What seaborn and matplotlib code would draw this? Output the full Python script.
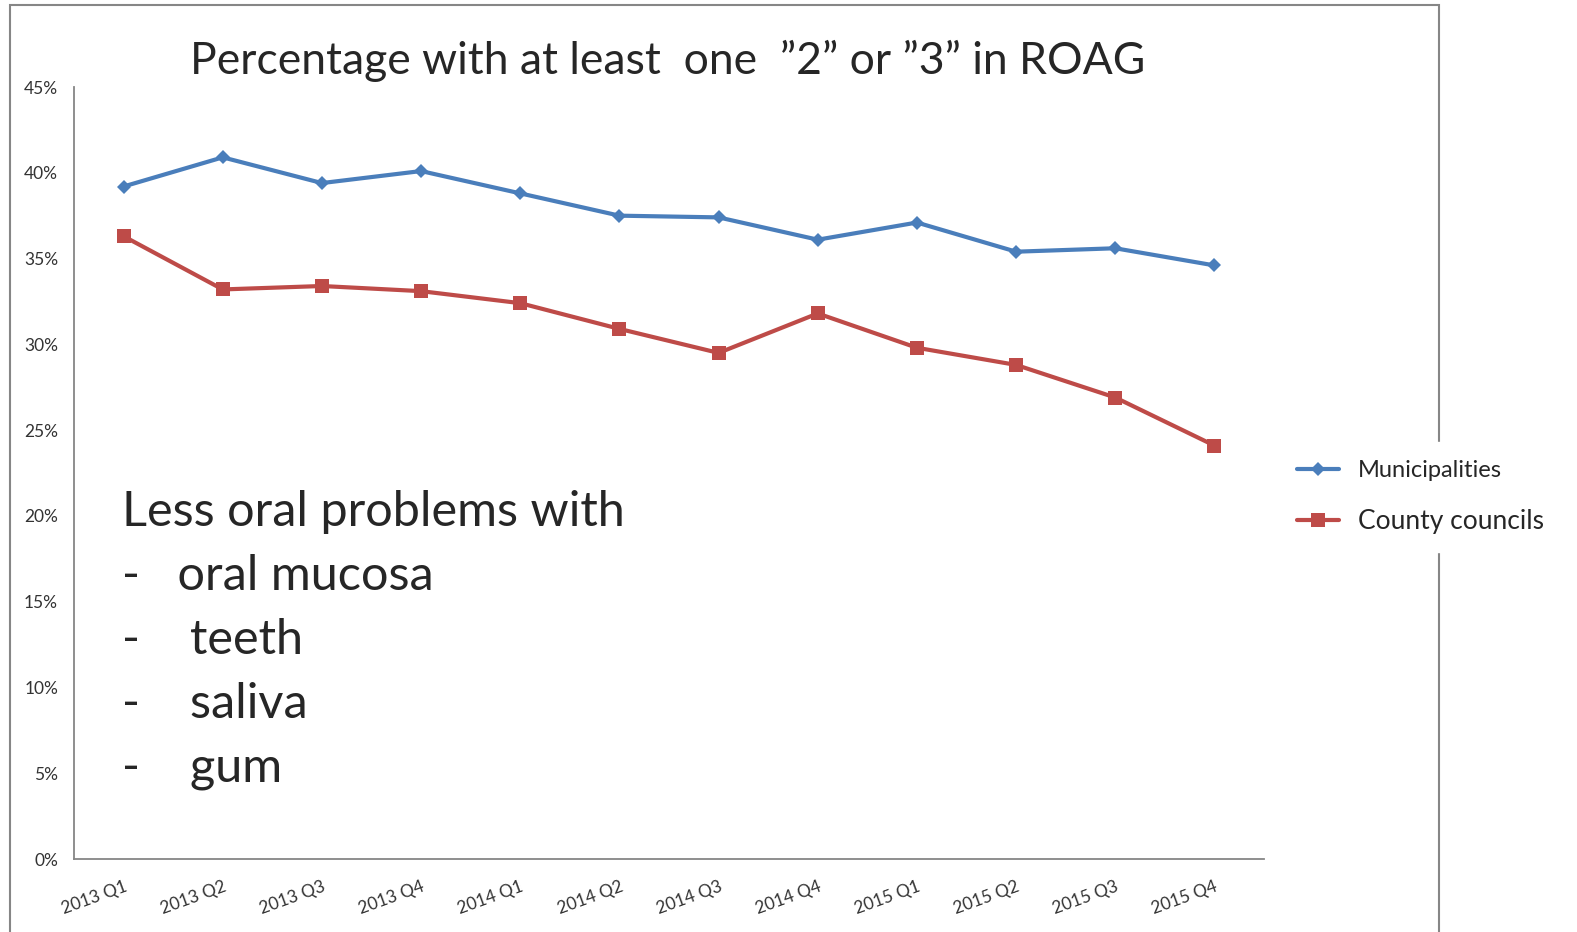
import matplotlib
matplotlib.use('Agg')
import matplotlib.pyplot as plt
from matplotlib.patches import Rectangle
from matplotlib.ticker import FuncFormatter
import pandas as pd
import seaborn as sns

quarters = ['2013 Q1', '2013 Q2', '2013 Q3', '2013 Q4',
            '2014 Q1', '2014 Q2', '2014 Q3', '2014 Q4',
            '2015 Q1', '2015 Q2', '2015 Q3', '2015 Q4']
municipalities = [39.2, 40.9, 39.4, 40.1, 38.8, 37.5, 37.4, 36.1, 37.1, 35.4, 35.6, 34.6]
county_councils = [36.3, 33.2, 33.4, 33.1, 32.4, 30.9, 29.5, 31.8, 29.8, 28.8, 26.9, 24.1]
series_names = ['Municipalities', 'County councils']
y_ticks = [0, 5, 10, 15, 20, 25, 30, 35, 40, 45]
note_lines = ['Less oral problems with', '-   oral mucosa', '-    teeth', '-    saliva', '-    gum']

df = pd.DataFrame({
    'quarter': quarters * 2,
    'value': municipalities + county_councils,
    'group': [series_names[0]] * len(quarters) + [series_names[1]] * len(quarters),
})

sns.set_style('white')
plt.rcParams['font.family'] = ['Lato', 'DejaVu Sans']

fig = plt.figure(figsize=(15.77, 9.32), dpi=100)
ax = fig.add_axes([74 / 1577, 1 - 859 / 932, 1190 / 1577, 772 / 932])

palette = {series_names[0]: '#4A7EBB', series_names[1]: '#BE4B48'}
markers = {series_names[0]: 'D', series_names[1]: 's'}
sns.lineplot(data=df, x='quarter', y='value', hue='group', style='group',
             palette=palette, markers=markers, dashes=False, linewidth=3,
             markersize=9, markeredgewidth=0, ax=ax, sort=False)
for line in ax.get_lines():
    if line.get_marker() == 'D':
        line.set_markersize(7.5)
    else:
        line.set_markersize(10)

ax.set_xlim(-0.5, len(quarters) - 0.5)
ax.set_ylim(0, 45)
ax.set_yticks(y_ticks)
ax.yaxis.set_major_formatter(FuncFormatter(lambda v, p: f'{int(v)}%'))
ax.set_xticks(range(len(quarters)))
ax.set_xticklabels(quarters, rotation=20, ha='right', rotation_mode='anchor')
ax.set_xticks([i - 0.5 for i in range(len(quarters) + 1)], minor=True)
ax.tick_params(axis='x', which='major', length=0, labelsize=12.5, pad=14, colors='#333333')
ax.tick_params(axis='x', which='minor', length=8, width=1.2, color='#868686', direction='out')
ax.tick_params(axis='y', length=8, width=1.2, color='#868686', labelsize=12.5,
               labelcolor='#333333', direction='out')
ax.set_xlabel('')
ax.set_ylabel('')
sns.despine(ax=ax)
for s in ['left', 'bottom']:
    ax.spines[s].set_color('#868686')
    ax.spines[s].set_linewidth(1.3)

fig.text(668 / 1577, 1 - 61 / 932, 'Percentage with at least  one  \u201d2\u201d or \u201d3\u201d in ROAG',
         ha='center', va='center', fontsize=32)

for i, line in enumerate(note_lines):
    fig.text(122 / 1577, 1 - (512 + 64 * i) / 932, line, ha='left', va='center', fontsize=35)

# outer frame, drawn under the axes so the legend box can cover it
fig.patches.append(Rectangle((10 / 1577, -0.01), 1429 / 1577, 1 - 5 / 932 + 0.01,
                             transform=fig.transFigure, fill=False,
                             edgecolor='#868686', linewidth=1.5, zorder=-1))

handles, labels = ax.get_legend_handles_labels()
leg = ax.legend(handles, labels, loc='center left', bbox_to_anchor=(1266 / 1577, 1 - 497 / 932),
                bbox_transform=fig.transFigure, frameon=True, fontsize=17,
                handlelength=1.8, handletextpad=0.8, labelspacing=1.15, borderpad=0.8)
leg.get_frame().set_facecolor('white')
leg.get_frame().set_edgecolor('white')
leg.get_frame().set_alpha(1)
leg.texts[1].set_fontsize(19)

fig.savefig('out.png', dpi=100)
